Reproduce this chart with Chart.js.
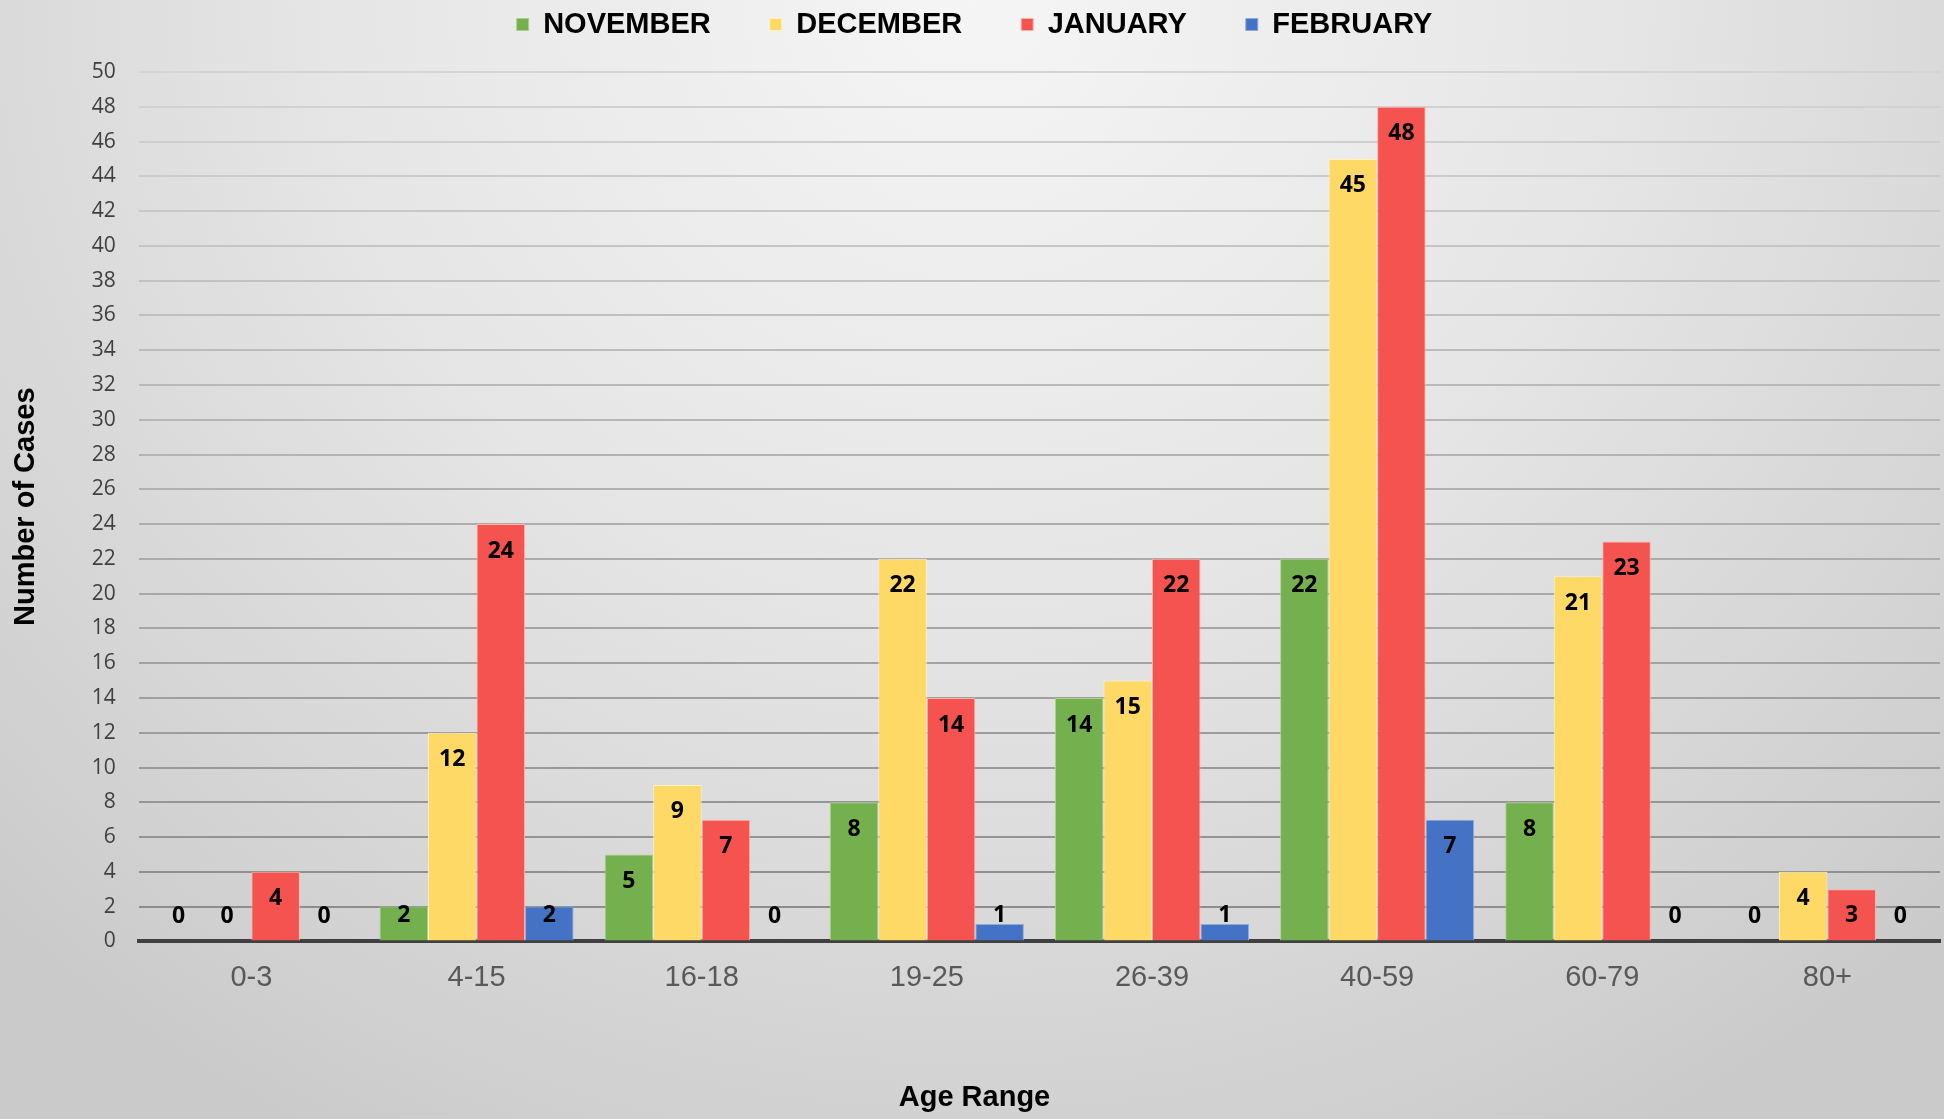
<!DOCTYPE html>
<html>
<head>
<meta charset="utf-8">
<title>Cases by Age Range</title>
<script src="https://cdn.jsdelivr.net/npm/chart.js@4.4.1/dist/chart.umd.min.js"></script>
<style>
  html, body { margin: 0; padding: 0; }
  body {
    width: 1944px; height: 1119px; overflow: hidden;
    background: radial-gradient(ellipse 1400px 1300px at 50% 0%, #f5f5f5 0%, #e6e6e6 45%, #d2d2d2 85%, #cacaca 100%);
  }
  #wrap { width: 1944px; height: 1119px; }
</style>
</head>
<body>
<div id="wrap"><canvas id="barChart"></canvas></div>
<script>
// データ
const ageRanges = ['0-3', '4-15', '16-18', '19-25', '26-39', '40-59', '60-79', '80+'];
const november = [0, 2, 5, 8, 14, 22, 8, 0];
const december = [0, 12, 9, 22, 15, 45, 21, 4];
const january = [4, 24, 7, 14, 22, 48, 23, 3];
const february = [0, 2, 0, 1, 1, 7, 0, 0];

// 棒の上に数値を描く
const valueLabels = {
    id: 'valueLabels',
    afterDatasetsDraw(chart) {
        const ctx = chart.ctx;
        ctx.save();
        ctx.font = 'bold 23px "Noto Sans"';
        ctx.fillStyle = '#000';
        ctx.textAlign = 'center';
        ctx.textBaseline = 'middle';
        chart.data.datasets.forEach((ds, i) => {
            chart.getDatasetMeta(i).data.forEach((bar, j) => {
                const y = Math.min(bar.y + 27, bar.base - 25);
                ctx.fillText(ds.data[j], bar.x, y);
            });
        });
        ctx.restore();
    }
};

// 凡例の下に余白を足す
const legendGap = {
    id: 'legendGap',
    beforeInit(chart) {
        const fit = chart.legend.fit;
        chart.legend.fit = function() {
            fit.bind(chart.legend)();
            this.height += 23;
        };
    }
};

// グリッド線の色（下に行くほど濃く）
const gridColor = (c) => {
    const v = c.tick ? c.tick.value : 0;
    if (v === 0) return 'rgba(0,0,0,0)';
    const g = Math.round(0x8a + (0xd4 - 0x8a) * v / 50);
    return `rgb(${g},${g},${g})`;
};

const barCtx = document.getElementById('barChart');
new Chart(barCtx, {
    type: 'bar',
    data: {
        labels: ageRanges,
        datasets: [
            { label: 'NOVEMBER', data: november, backgroundColor: '#75b04f', borderColor: '#a9d18e', borderWidth: 1 },
            { label: 'DECEMBER', data: december, backgroundColor: '#ffd966', borderColor: '#fff0c0', borderWidth: 1 },
            { label: 'JANUARY', data: january, backgroundColor: '#f55350', borderColor: '#ffb0a8', borderWidth: 1 },
            { label: 'FEBRUARY', data: february, backgroundColor: '#4472c4', borderColor: '#8faadc', borderWidth: 1 }
        ]
    },
    options: {
        responsive: true,
        maintainAspectRatio: false,
        animation: false,
        categoryPercentage: 0.862,
        barPercentage: 1.0,
        layout: { padding: { top: -49, left: 9, right: 4, bottom: 4 } },
        plugins: {
            tooltip: { enabled: false },
            legend: {
                position: 'top',
                labels: {
                    boxWidth: 12,
                    boxHeight: 12,
                    padding: 59,
                    color: '#000',
                    font: { family: '"Liberation Sans", Arial', size: 29, weight: 'bold' }
                }
            },
            // X軸タイトル（元図では全体の中央に置かれている）
            title: {
                display: true,
                position: 'bottom',
                text: 'Age Range',
                color: '#000',
                padding: { top: 74, bottom: 0 },
                font: { family: '"Liberation Sans", Arial', size: 29, weight: 'bold' }
            }
        },
        scales: {
            x: {
                grid: { display: false },
                border: { display: true, color: '#404040', width: 4 },
                ticks: {
                    color: '#595959',
                    padding: 11,
                    font: { family: '"Liberation Sans", Arial', size: 29 }
                }
            },
            y: {
                min: 0,
                max: 50,
                grid: { color: gridColor, lineWidth: 2, drawTicks: false },
                border: { display: false },
                ticks: {
                    stepSize: 2,
                    color: '#404040',
                    padding: 23,
                    font: { family: '"Open Sans"', size: 21 }
                },
                title: {
                    display: true,
                    text: 'Number of Cases',
                    color: '#000',
                    padding: { top: 0, bottom: 25 },
                    font: { family: '"Liberation Sans", Arial', size: 29, weight: 'bold' }
                }
            }
        }
    },
    plugins: [valueLabels, legendGap]
});
</script>
</body>
</html>
